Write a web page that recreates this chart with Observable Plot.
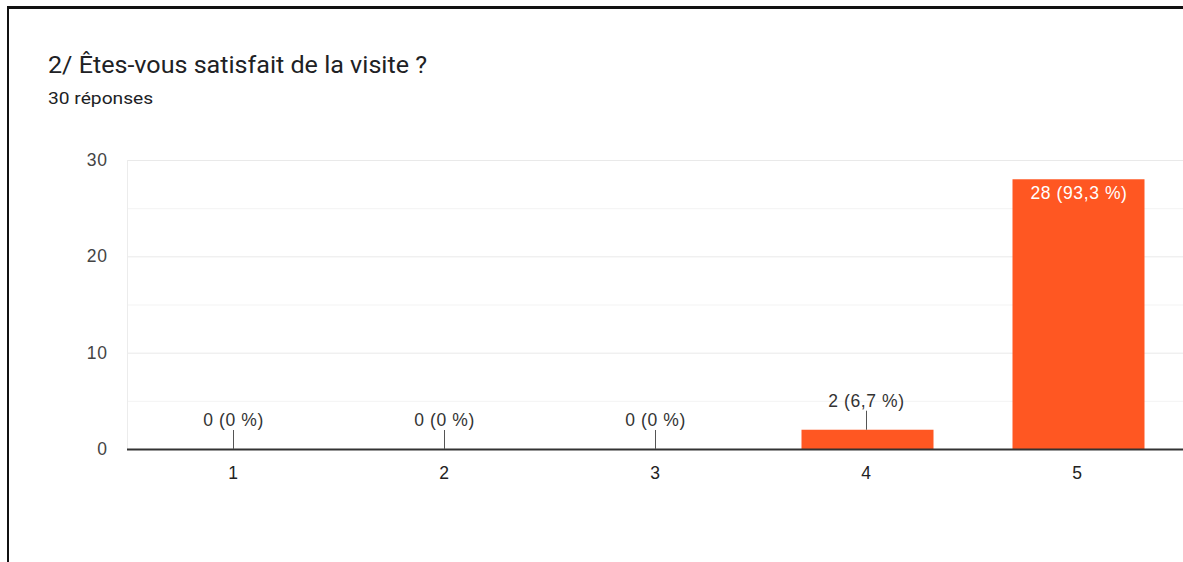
<!DOCTYPE html>
<html>
<head>
<meta charset="utf-8">
<script src="https://cdn.jsdelivr.net/npm/d3@7"></script>
<script src="https://cdn.jsdelivr.net/npm/@observablehq/plot@0.6"></script>
<style>
  html, body { margin: 0; padding: 0; background: #fff; width: 1183px; height: 562px; overflow: hidden; }
  #frame { position: absolute; left: 7px; top: 6px; width: 1300px; height: 700px; border-left: 2.5px solid #111; border-top: 3px solid #111; }
  #title { position: absolute; left: 48px; top: 50.5px; font-family: Roboto, sans-serif; font-size: 23.5px; line-height: normal; color: #202124; white-space: nowrap; transform: scaleX(1.068); transform-origin: left top; }
  #subtitle { position: absolute; left: 48px; top: 88.5px; font-family: Roboto, sans-serif; font-size: 16px; line-height: normal; color: #202124; white-space: nowrap; transform: scaleX(1.2); transform-origin: left top; }
  #chart { position: absolute; left: 0; top: 130px; }
  #chart svg { overflow: visible; }
</style>
</head>
<body>
<div id="frame"></div>
<div id="title">2/ Êtes-vous satisfait de la visite ?</div>
<div id="subtitle">30 réponses</div>
<div id="chart"></div>
<script>
const categories = ["1", "2", "3", "4", "5"];
const counts = [0, 0, 0, 2, 28];
const labels = ["0 (0 %)", "0 (0 %)", "0 (0 %)", "2 (6,7 %)", "28 (93,3 %)"];
const yTicks = [0, 10, 20, 30];
const majorGrid = [10, 20, 30];
const minorGrid = [5, 15, 25];

const data = categories.map((c, i) => ({cat: c, value: counts[i], label: labels[i]}));
const inside = data.filter(d => d.value >= 10);
const outside = data.filter(d => d.value < 10);

const chart = Plot.plot({
  width: 1183,
  height: 400,
  marginLeft: 127,
  marginRight: 0,
  marginTop: 30,
  marginBottom: 81,
  style: {fontFamily: "'Liberation Sans', Arial, sans-serif", fontSize: "17.5px", letterSpacing: "0.6px", background: "transparent", overflow: "visible"},
  x: {domain: categories, paddingInner: 0.375, paddingOuter: 0.1875, label: null},
  y: {domain: [0, 30], label: null},
  marks: [
    Plot.ruleY(minorGrid, {stroke: "#f3f3f3", strokeWidth: 1}),
    Plot.ruleY(majorGrid, {stroke: "#e9e9e9", strokeWidth: 1}),
    Plot.frame({anchor: "left", stroke: "#ececec"}),
    Plot.barY(data, {x: "cat", y: "value", fill: "#ff5722", dx: 1.5}),
    Plot.ruleY([0], {stroke: "#333", strokeWidth: 2}),
    Plot.ruleX(outside, {x: "cat", y1: "value", y2: "value", insetBottom: 19, stroke: "#555", strokeWidth: 1}),
    Plot.text(outside, {x: "cat", y: "value", text: "label", dy: -29, fill: "#333", fontSize: 17.5}),
    Plot.text(inside, {x: "cat", y: "value", text: "label", dy: 14, dx: 1.5, fill: "#fff", fontSize: 17.5}),
    Plot.axisY({ticks: yTicks, tickSize: 0, tickPadding: 20, fill: "#444", fontSize: 17.5}),
    Plot.axisX({tickSize: 0, tickPadding: 17, fill: "#222", fontSize: 17.5})
  ]
});
document.getElementById("chart").appendChild(chart);
</script>
</body>
</html>
